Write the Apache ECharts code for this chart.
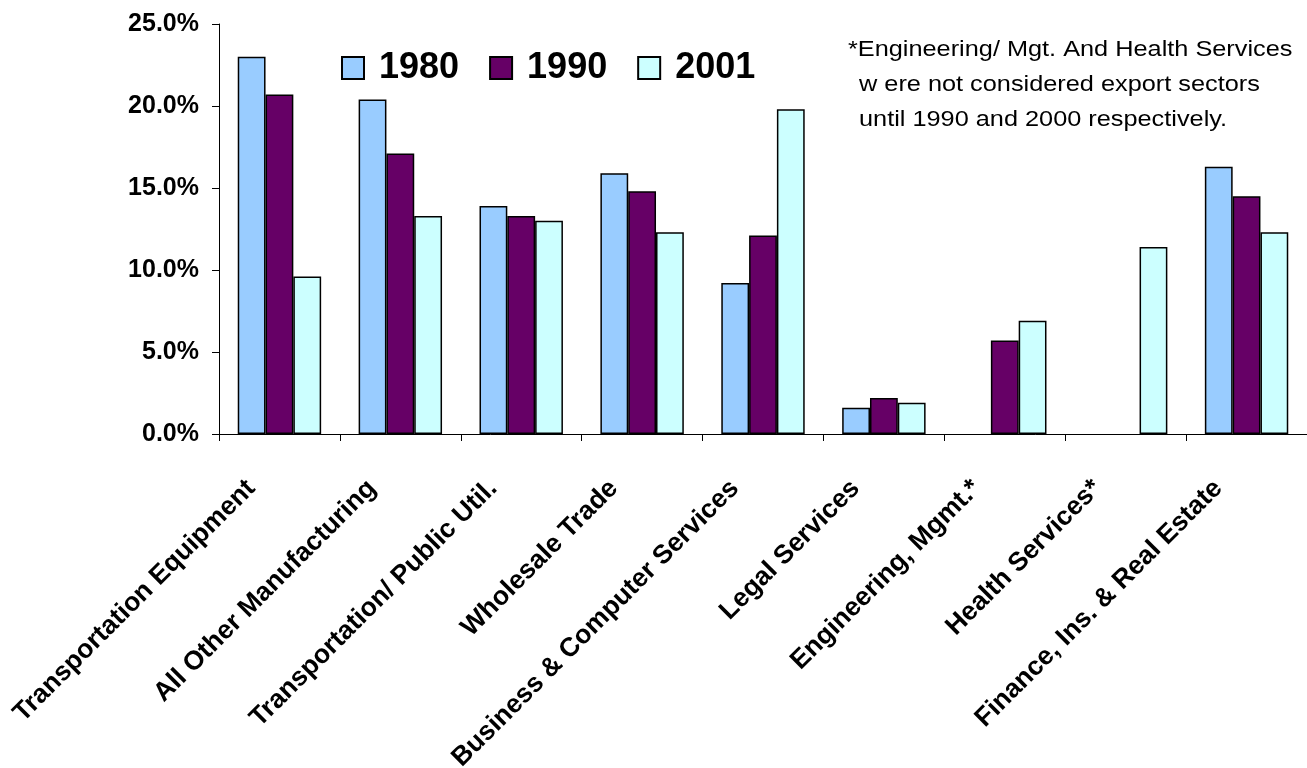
<!DOCTYPE html>
<html>
<head>
<meta charset="utf-8">
<script src="https://cdn.jsdelivr.net/npm/echarts@6/dist/echarts.min.js"></script>
<style>
html,body{margin:0;padding:0;background:#fff;}
#chart{width:1307px;height:768px;}
</style>
</head>
<body>
<div id="chart"></div>
<script>
const categories = [
  "Transportation Equipment",
  "All Other Manufacturing",
  "Transportation/ Public Util.",
  "Wholesale Trade",
  "Business & Computer Services",
  "Legal Services",
  "Engineering, Mgmt.*",
  "Health Services*",
  "Finance, Ins. & Real Estate"
];
const seriesNames = ["1980", "1990", "2001"];
const values1980 = [23.0, 20.4, 13.9, 15.9, 9.2, 1.6, null, null, 16.3];
const values1990 = [20.7, 17.1, 13.3, 14.8, 12.1, 2.2, 5.7, null, 14.5];
const values2001 = [9.6, 13.3, 13.0, 12.3, 19.8, 1.9, 6.9, 11.4, 12.3];
const yTicks = [0, 5, 10, 15, 20, 25];
const noteLines = [
  "*Engineering/ Mgt. And Health Services",
  " w ere not considered export sectors",
  " until 1990 and 2000 respectively."
];

const colors = ["#99CCFF", "#660066", "#CCFFFF"];
const allValues = [values1980, values1990, values2001];

const chart = echarts.init(document.getElementById('chart'), null, {renderer: 'canvas'});
const FONT = 'Arial, "Liberation Sans", sans-serif';

const option = {
  animation: false,
  backgroundColor: '#fff',
  grid: {left: 219, right: 0, top: 24, bottom: 334, containLabel: false, outerBoundsMode: 'none'},
  legend: {
    data: seriesNames,
    left: 336,
    top: 45,
    icon: 'rect',
    itemWidth: 22,
    itemHeight: 22,
    itemGap: 30,
    textStyle: {fontFamily: FONT, fontSize: 36, fontWeight: 'bold', color: '#000', padding: [0, 0, 0, 10]}
  },
  xAxis: {
    type: 'category',
    data: categories,
    axisLine: {lineStyle: {color: '#000', width: 1}},
    axisTick: {show: true, length: 7, lineStyle: {color: '#000'}},
    axisLabel: {
      interval: 0,
      rotate: 45,
      margin: 22,
      padding: [0, 40, 0, 0],
      fontFamily: FONT,
      fontSize: 26.5,
      fontWeight: 'bold',
      color: '#000'
    }
  },
  yAxis: {
    type: 'value',
    min: yTicks[0],
    max: yTicks[yTicks.length - 1],
    interval: yTicks[1] - yTicks[0],
    splitLine: {show: false},
    axisLine: {show: true, lineStyle: {color: '#000', width: 1}},
    axisTick: {show: true, length: 7, lineStyle: {color: '#000'}},
    axisLabel: {
      margin: 20,
      fontFamily: FONT,
      fontSize: 25,
      fontWeight: 'bold',
      color: '#000',
      formatter: v => v.toFixed(1) + '%'
    }
  },
  series: seriesNames.map((name, i) => ({
    name: name,
    type: 'bar',
    data: allValues[i],
    barGap: '0%',
    barCategoryGap: '31%',
    itemStyle: {color: colors[i], borderColor: '#000', borderWidth: 1.5}
  })),
  graphic: noteLines.map((t, i) => ({
    type: 'text',
    x: i === 0 ? 848 : 852,
    y: 50 + i * 35,
    scaleX: 1.15,
    style: {
      text: t,
      fontFamily: FONT,
      fontSize: 22,
      fill: '#000',
      verticalAlign: 'middle',
      align: 'left'
    }
  }))
};
chart.setOption(option);
</script>
</body>
</html>
